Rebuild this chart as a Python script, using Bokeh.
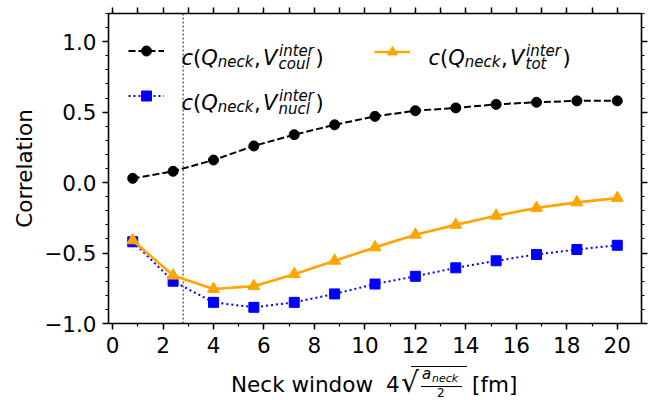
from bokeh.plotting import figure
from bokeh.layouts import column
from bokeh.models import (LinearAxis, SingleIntervalTicker, CustomJSTickFormatter, Span,
                          Legend, LegendItem, Label, Range1d, Div)
from bokeh.core.properties import value
from bokeh.embed import file_html
from bokeh.resources import INLINE

# ---------------- data ----------------
neck_window = [0.8, 2.4, 4.0, 5.6, 7.2, 8.8, 10.4, 12.0, 13.6, 15.2, 16.8, 18.4, 20.0]
corr_coul = [0.03, 0.08, 0.16, 0.26, 0.34, 0.41, 0.47, 0.51, 0.53, 0.555, 0.57, 0.58, 0.58]
corr_nucl = [-0.42, -0.70, -0.85, -0.885, -0.85, -0.79, -0.72, -0.665, -0.605, -0.555, -0.51, -0.475, -0.445]
corr_tot = [-0.41, -0.66, -0.755, -0.735, -0.65, -0.555, -0.46, -0.37, -0.30, -0.235, -0.18, -0.14, -0.11]
neck_ref = 2.8
sub_labels = ["coul", "nucl", "tot"]

# ---------------- layout ----------------
W = 654
H1 = 361          # main plot height
H2 = 400 - H1     # strip holding the x-axis label
BL, BR, BT, BB = 108, 13, 13, 38
X0, X1 = -0.16, 20.96
Y0, Y1 = -1.0, 1.2
FW, FH = W - BL - BR, H1 - BT - BB
FONT = "DejaVu Sans"
FS = "21.5px"


def dx(px):
    return X0 + (px - BL) * (X1 - X0) / FW


def dy(py):
    return Y1 - (py - BT) * (Y1 - Y0) / FH


p = figure(width=W, height=H1, x_range=Range1d(X0, X1), y_range=Range1d(Y0, Y1),
           output_backend="svg", toolbar_location=None,
           min_border_left=BL, min_border_right=BR, min_border_top=BT, min_border_bottom=BB)
p.outline_line_color = None
p.xgrid.visible = False
p.ygrid.visible = False
p.background_fill_color = "white"
p.border_fill_color = "white"

yfmt = CustomJSTickFormatter(code="""
if (Math.abs(tick) < 1e-9) return '0.0';
const s = Math.abs(tick).toFixed(1);
return tick < 0 ? '\\u2212' + s : s;
""")
blank = CustomJSTickFormatter(code="return '';")


def style_axis(ax, major_out=6, minor_out=3):
    ax.axis_line_color = "black"
    ax.axis_line_width = 1.6
    ax.major_tick_line_color = "black"
    ax.minor_tick_line_color = "black"
    ax.major_tick_line_width = 1.5
    ax.minor_tick_line_width = 1.2
    ax.major_tick_in = 0
    ax.minor_tick_in = 0
    ax.major_tick_out = major_out
    ax.minor_tick_out = minor_out
    ax.major_label_text_font = FONT
    ax.major_label_text_font_size = FS
    ax.major_label_text_color = "black"


xax = p.xaxis[0]
xax.ticker = SingleIntervalTicker(interval=2, num_minor_ticks=2)
style_axis(xax)
xax.major_label_standoff = 7

yax = p.yaxis[0]
yax.ticker = SingleIntervalTicker(interval=0.5, num_minor_ticks=5)
yax.formatter = yfmt
style_axis(yax)
yax.major_label_standoff = 6
yax.axis_label = "Correlation"
yax.axis_label_text_font = FONT
yax.axis_label_text_font_size = FS
yax.axis_label_text_font_style = "normal"
yax.axis_label_text_color = "black"
yax.axis_label_standoff = 4

top = LinearAxis(ticker=SingleIntervalTicker(interval=1, num_minor_ticks=0), formatter=blank)
style_axis(top)
top.major_label_standoff = 0
p.add_layout(top, "above")

right = LinearAxis(ticker=SingleIntervalTicker(interval=0.5, num_minor_ticks=5), formatter=blank)
style_axis(right)
right.major_label_standoff = 0
p.add_layout(right, "right")

# reference vertical line
p.add_layout(Span(location=neck_ref, dimension="height", line_color="#777777",
                  line_dash="2 2", line_width=1.7, level="underlay"))

# ---------------- series ----------------
l_coul = p.line(neck_window, corr_coul, line_color="black", line_width=2, line_dash="7 3")
s_coul = p.scatter(neck_window, corr_coul, marker="circle", size=10, fill_color="black", line_color="black")
l_nucl = p.line(neck_window, corr_nucl, line_color="blue", line_width=2, line_dash="2 3")
s_nucl = p.scatter(neck_window, corr_nucl, marker="square", size=10, fill_color="blue", line_color="blue")
l_tot = p.line(neck_window, corr_tot, line_color="orange", line_width=2.7)
s_tot = p.scatter(neck_window, corr_tot, marker="triangle", size=12, fill_color="orange", line_color="orange")


def make_legend(items, loc):
    lg = Legend(items=items, location=loc, orientation="vertical", padding=0, margin=0,
                spacing=20, glyph_width=36, glyph_height=25, label_height=25, label_width=1,
                label_standoff=0, border_line_color=None, background_fill_alpha=0)
    p.add_layout(lg)


make_legend([LegendItem(label=value(""), renderers=[l_coul, s_coul]),
             LegendItem(label=value(""), renderers=[l_nucl, s_nucl])], (20, 216 - 39 + BB))
make_legend([LegendItem(label=value(""), renderers=[l_tot, s_tot])], (266, 260 - 39 + BB))


def lab(fig, text, x, y, size, style="normal"):
    fig.add_layout(Label(x=x, y=y, text=text, text_font=FONT, text_font_size=size,
                         text_font_style=style, text_color="black", text_align="left",
                         text_baseline="alphabetic"))


def math_entry(bx, by, sub):
    def L(t, ox, oy, size, style="normal"):
        lab(p, t, dx(bx + ox), dy(by + oy), size, style)
    L("c", 0, 0, "21px", "italic")
    L("(", 11.5, 0, "21px")
    L("Q", 19.7, 0, "21px", "italic")
    L("neck", 36.3, 4.5, "15px", "italic")
    L(",", 72.5, 0, "21px")
    L("V", 81.5, 0, "21px", "italic")
    L("inter", 97.5, -7, "15px", "italic")
    L(sub, 97, 6, "15px", "italic")
    L(")", 134, 0, "21px")


math_entry(181, 57, sub_labels[0])
math_entry(181, 102, sub_labels[1])
math_entry(428, 57, sub_labels[2])

# ---------------- x axis label (HTML strip, page-pixel positions) ----------------
o = H1  # page y of strip top


def sp(text, x, base, fs, italic=False):
    top_px = base - o - 0.846 * fs
    st = ("position:absolute;left:%.1fpx;top:%.1fpx;font-family:'DejaVu Sans';"
          "font-size:%.1fpx;line-height:1;white-space:nowrap;color:#000;font-style:%s;"
          % (x, top_px, fs, "italic" if italic else "normal"))
    return '<span style="%s">%s</span>' % (st, text)


def bar(x0, x1, y, w):
    return ('<div style="position:absolute;left:%.1fpx;top:%.1fpx;width:%.1fpx;'
            'height:%.1fpx;background:#000;"></div>' % (x0, y - o - w / 2, x1 - x0, w))


parts = [
    sp("Neck window", 231, 392, 21.5),
    sp("4", 386, 392, 21.5),
    sp("&#8730;", 401, 393, 28),
    bar(410.5, 467.3, 366.5, 1.3),
    sp("a", 422, 379.5, 15, True),
    sp("neck", 432, 382, 11, True),
    bar(420.5, 462, 386, 1.0),
    sp("2", 437, 397.5, 12),
    sp("[fm]", 472, 392, 21.5),
]
html = ('<div style="position:relative;width:%dpx;height:%dpx;overflow:hidden;">%s</div>'
        % (W, H2, "".join(parts)))
strip = Div(text=html, width=W, height=H2, margin=0)

layout = column(p, strip, spacing=0)
open("out.html", "w").write(file_html(layout, INLINE))
